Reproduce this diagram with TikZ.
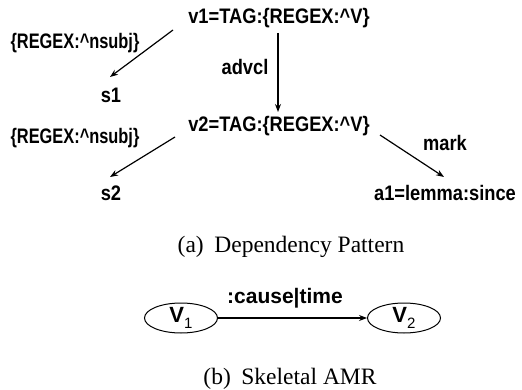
\documentclass[tikz,border=0pt]{standalone}
\usepackage{fontspec}
\setmainfont{Liberation Serif}
\setsansfont{Liberation Sans}
\newfontfamily\lblfont{Liberation Sans}[FakeStretch=0.87]
\newfontfamily\lblnarrow{Liberation Sans}[FakeStretch=0.78]
\usetikzlibrary{arrows.meta,shapes.geometric}
\newcommand{\amrsub}[1]{\raisebox{-0.45ex}{\fontsize{15}{15}\selectfont #1}}
\begin{document}
\begin{tikzpicture}[x=1pt,y=-1pt,
  lbl/.style={font=\lblfont\bfseries\fontsize{21}{24}\selectfont, inner sep=0pt},
  rx/.style={font=\lblnarrow\bfseries\fontsize{21}{24}\selectfont, inner sep=0pt},
  edge/.style={-{Stealth[length=8pt,width=6pt]}, line width=1.2pt},
  capt/.style={font=\fontsize{23.5}{27}\selectfont, inner sep=0pt},
  amr/.style={ellipse, draw, line width=1pt, minimum width=73pt, minimum height=30pt,
              inner sep=0pt, font=\sffamily\fontsize{22}{24}\selectfont}]
\useasboundingbox (0,0) rectangle (522,390);

% dependency pattern
\node[lbl] (v1) at (279,18) {v1=TAG:\{REGEX:\textasciicircum V\}};
\node[rx] (r1) at (75,43) {\{REGEX:\textasciicircum nsubj\}};
\node[lbl] (s1) at (111,95) {s1};
\node[lbl] (advcl) at (245,67) {advcl};
\node[lbl] (v2) at (279,126) {v2=TAG:\{REGEX:\textasciicircum V\}};
\node[rx] (r2) at (75,138) {\{REGEX:\textasciicircum nsubj\}};
\node[lbl] (s2) at (111,193) {s2};
\node[lbl] (mark) at (445,143) {mark};
\node[lbl] (a1) at (445,193) {a1=lemma:since};

\draw[edge] ([shift={(-106,12)}]v1.center) -- ([shift={(-1,-18)}]s1.center);
\draw[edge] ([shift={(-1,15)}]v1.center) -- ([shift={(-1,-14)}]v2.center);
\draw[edge] ([shift={(-104,11)}]v2.center) -- ([shift={(-1,-16)}]s2.center);
\draw[edge] ([shift={(101,9)}]v2.center) -- ([shift={(-1,-16)}]a1.center);

\node[capt] (capa) at (291,247) {(a)\hspace{0.45em}Dependency Pattern};

% skeletal AMR
\node[amr] (V1) at (181,318) {\textbf{V}\amrsub{1}};
\node[amr] (V2) at (404,318) {\textbf{V}\amrsub{2}};
\draw[edge] (V1) -- (V2);
\node[font=\sffamily\bfseries\fontsize{21}{24}\selectfont, inner sep=0pt] (rel) at (285,298) {:cause|time};

\node[capt] (capb) at (290,379) {(b)\hspace{0.45em}Skeletal AMR};
\end{tikzpicture}
\end{document}
